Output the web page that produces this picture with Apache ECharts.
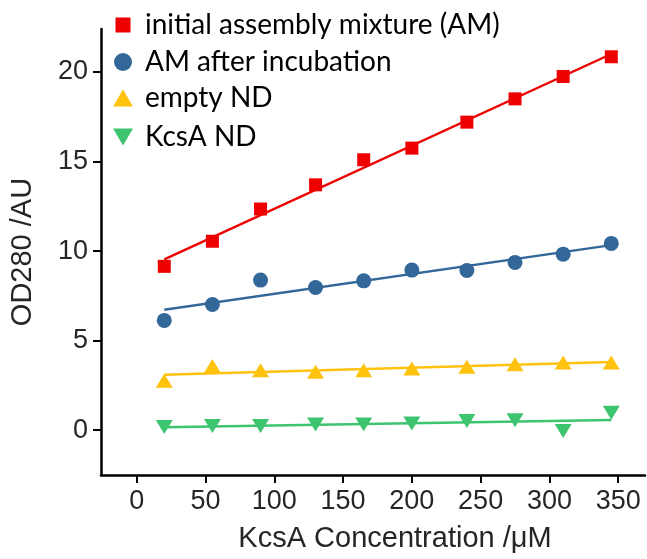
<!DOCTYPE html>
<html>
<head>
<meta charset="utf-8">
<script src="https://cdn.jsdelivr.net/npm/echarts@6/dist/echarts.min.js"></script>
<style>
  html, body { margin: 0; padding: 0; background: #fff; }
  #chart { width: 647px; height: 559px; }
</style>
</head>
<body>
<div id="chart"></div>
<script>
// KcsA concentration (µM) for each sample
const concentration = [20, 55, 90, 130, 165, 200, 240, 275, 310, 345];

// OD280 readings (AU)
const initialAM   = [9.15, 10.55, 12.35, 13.7, 15.1, 15.75, 17.2, 18.5, 19.75, 20.85];
const amIncubated = [6.13, 7.02, 8.38, 7.97, 8.34, 8.94, 8.92, 9.37, 9.83, 10.43];
const emptyND     = [2.76, 3.59, 3.35, 3.26, 3.35, 3.45, 3.54, 3.69, 3.78, 3.78];
const kcsaND      = [0.18, 0.24, 0.24, 0.32, 0.32, 0.37, 0.52, 0.56, -0.04, 0.97];

const seriesNames = ['initial assembly mixture (AM)', 'AM after incubation', 'empty ND', 'KcsA ND'];
const seriesColors = ['#ee0000', '#336699', '#ffc20e', '#3cc46e'];

const xTicks = [0, 50, 100, 150, 200, 250, 300, 350];
const yTicks = [0, 5, 10, 15, 20];

// Least-squares straight line through a data set, spanning its x range
function linearFit(xs, ys) {
  const n = xs.length;
  const mx = xs.reduce((a, b) => a + b, 0) / n;
  const my = ys.reduce((a, b) => a + b, 0) / n;
  let sxy = 0, sxx = 0;
  for (let i = 0; i < n; i++) {
    sxy += (xs[i] - mx) * (ys[i] - my);
    sxx += (xs[i] - mx) * (xs[i] - mx);
  }
  const slope = sxy / sxx;
  const x0 = Math.min(...xs), x1 = Math.max(...xs);
  return [[x0, my + slope * (x0 - mx)], [x1, my + slope * (x1 - mx)]];
}

const pairs = ys => concentration.map((x, i) => [x, ys[i]]);
const datasets = [initialAM, amIncubated, emptyND, kcsaND];

const symbols = [
  { symbol: 'rect', size: 13, rotate: 0 },
  { symbol: 'circle', size: 15, rotate: 0 },
  { symbol: 'triangle', size: [17, 14], rotate: 0 },
  { symbol: 'triangle', size: [17, 14], rotate: 180 }
];

const series = [];
datasets.forEach((ys, k) => {
  series.push({
    name: seriesNames[k] + ' fit',
    type: 'line',
    data: linearFit(concentration, ys),
    showSymbol: false,
    symbol: 'none',
    lineStyle: { color: seriesColors[k], width: 2.4 },
    silent: true,
    z: 2
  });
  series.push({
    name: seriesNames[k],
    type: 'scatter',
    data: pairs(ys),
    symbol: symbols[k].symbol,
    symbolSize: symbols[k].size,
    symbolRotate: symbols[k].rotate,
    itemStyle: { color: seriesColors[k], opacity: 1 },
    z: 3
  });
});

// One legend block per row so each icon keeps its own size
const legendRows = [
  { icon: 'rect', w: 15, h: 15, top: 11 },
  { icon: 'circle', w: 18, h: 18, top: 48 },
  { icon: 'triangle', w: 20, h: 17, top: 84 },
  { icon: 'path://M0,0L20,0L10,17Z', w: 20, h: 17, top: 123 }
];
const legends = legendRows.map((row, k) => ({
  data: [{ name: seriesNames[k], icon: row.icon, itemStyle: { color: seriesColors[k] } }],
  left: 123 - row.w / 2,
  top: row.top,
  itemWidth: row.w,
  itemHeight: row.h,
  selectedMode: false,
  padding: 0,
  textStyle: {
    fontFamily: 'Lato',
    fontSize: 28,
    color: '#000',
    padding: [0, 0, 0, 145 - (123 - row.w / 2) - row.w - 5]
  }
}));

const axisText = { fontFamily: 'Liberation Sans', color: '#262626' };

const chart = echarts.init(document.getElementById('chart'), null, { renderer: 'canvas' });
chart.setOption({
  animation: false,
  backgroundColor: '#fff',
  legend: legends,
  grid: { left: 97, right: 2, top: 29, bottom: 84 },
  xAxis: {
    type: 'value',
    min: -26,
    max: 369.5,
    name: 'KcsA Concentration /μM',
    nameLocation: 'middle',
    nameGap: 49,
    nameTextStyle: Object.assign({ fontSize: 29, padding: [0, 0, 0, 44] }, axisText),
    axisLine: { show: true, onZero: false, lineStyle: { color: '#000', width: 2.5 } },
    axisTick: { show: true, length: 8, lineStyle: { color: '#000', width: 2 }, customValues: xTicks },
    axisLabel: Object.assign({ fontSize: 27, margin: 13, customValues: xTicks }, axisText),
    splitLine: { show: false }
  },
  yAxis: {
    type: 'value',
    min: -2.5,
    max: 22.4,
    name: 'OD280 /AU',
    nameLocation: 'middle',
    nameGap: 64,
    nameTextStyle: Object.assign({ fontSize: 29 }, axisText),
    axisLine: { show: true, onZero: false, lineStyle: { color: '#000', width: 2.5 } },
    axisTick: { show: true, length: 8, lineStyle: { color: '#000', width: 2 }, customValues: yTicks },
    axisLabel: Object.assign({ fontSize: 27, margin: 13, customValues: yTicks }, axisText),
    splitLine: { show: false }
  },
  series: series
});
</script>
</body>
</html>
